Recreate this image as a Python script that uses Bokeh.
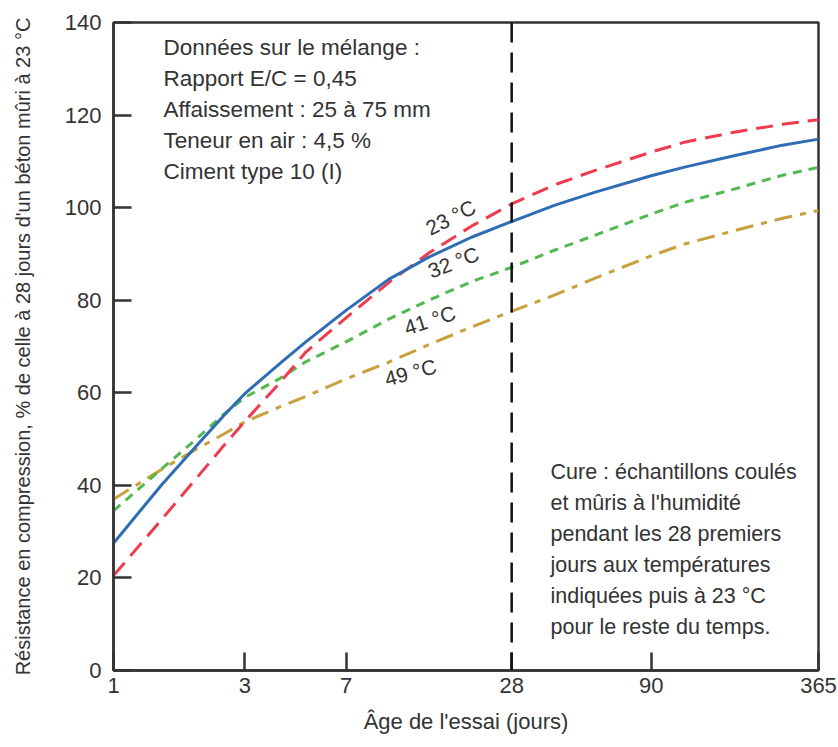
from bokeh.plotting import figure
from bokeh.models import Range1d, FixedTicker, Span, Label
from bokeh.embed import file_html
from bokeh.resources import INLINE

# ---- data ----
ages = [1, 1.5, 2, 2.5, 3, 4, 5, 7, 10, 14, 20, 28, 40, 56, 90, 120, 180, 270, 365]
s23 = [20.5, 32.7, 41.5, 48.4, 53.8, 62.0, 68.8, 76.2, 83.8, 90.2, 96.0, 100.8,
       104.9, 108.0, 112.0, 114.2, 116.3, 118.0, 119.0]
s32 = [27.5, 40.2, 48.5, 54.9, 59.8, 66.2, 71.0, 77.8, 84.5, 89.3, 93.6, 97.0,
       100.5, 103.3, 106.9, 108.8, 111.2, 113.5, 114.8]
s41 = [34.5, 43.6, 50.0, 55.2, 59.0, 63.0, 66.7, 71.0, 75.9, 80.0, 84.0, 87.1,
       90.8, 94.0, 98.6, 101.2, 104.0, 107.0, 108.7]
s49 = [37.0, 43.5, 47.8, 51.0, 53.7, 56.9, 59.2, 63.0, 66.6, 70.4, 74.2, 77.6,
       81.1, 84.7, 89.6, 92.2, 95.0, 97.7, 99.4]
x_ticks = [1, 3, 7, 28, 90, 365]
y_ticks = [0, 20, 40, 60, 80, 100, 120, 140]
curve_labels = ["23 °C", "32 °C", "41 °C", "49 °C"]
mix_lines = ["Données sur le mélange :", "Rapport E/C = 0,45",
             "Affaissement : 25 à 75 mm", "Teneur en air : 4,5 %",
             "Ciment type 10 (I)"]
cure_lines = ["Cure : échantillons coulés", "et mûris à l'humidité",
              "pendant les 28 premiers", "jours aux températures",
              "indiquées puis à 23 °C", "pour le reste du temps."]

FONT = "Liberation Sans"
TXT = "#333333"

p = figure(width=838, height=747, x_axis_type="log",
           x_range=Range1d(1, 365), y_range=Range1d(0, 140),
           output_backend="svg", toolbar_location=None,
           min_border_left=113, min_border_right=20,
           min_border_top=22, min_border_bottom=77)
p.grid.visible = False
p.background_fill_color = "white"
p.border_fill_color = "white"
p.outline_line_color = "#333333"
p.outline_line_width = 2.5

p.xaxis.ticker = FixedTicker(ticks=x_ticks)
p.xaxis.major_label_overrides = {t: str(t) for t in x_ticks}
p.yaxis.ticker = FixedTicker(ticks=y_ticks)
for ax in (p.xaxis, p.yaxis):
    ax.major_tick_in = 18
    ax.major_tick_out = 0
    ax.minor_tick_line_color = None
    ax.axis_line_color = "#333333"
    ax.axis_line_width = 2.5
    ax.major_tick_line_color = "#333333"
    ax.major_tick_line_width = 2.5
    ax.major_label_text_font = FONT
    ax.major_label_text_font_size = "22px"
    ax.major_label_text_color = TXT
    ax.axis_label_text_font = FONT
    ax.axis_label_text_font_style = "normal"
    ax.axis_label_text_color = TXT
p.xaxis.major_label_standoff = 7
p.yaxis.major_label_standoff = 12
p.xaxis.axis_label = "Âge de l'essai (jours)"
p.xaxis.axis_label_text_font_size = "22px"
p.xaxis.axis_label_standoff = 13
p.yaxis.axis_label = "Résistance en compression, % de celle à 28 jours d'un béton mûri à 23 °C"
p.yaxis.axis_label_text_font_size = "20px"
p.yaxis.axis_label_standoff = 28

p.add_layout(Span(location=28, dimension="height", line_color="#111111",
                  line_width=2.5, line_dash="20 10"))

p.line(ages, s49, line_color="#c8a03c", line_width=3, line_dash="18 8 6 8")
p.line(ages, s41, line_color="#52b94f", line_width=3, line_dash="9 7")
p.line(ages, s23, line_color="#ee3b4e", line_width=3, line_dash="17 9")
p.line(ages, s32, line_color="#2e6db4", line_width=3)

# curve labels (data coords)
lab_pos = [(16.8, 97.9, 27), (17.2, 88.2, 21), (14.1, 75.7, 18), (12.0, 64.4, 15)]
for txt, (ax_, ay, ang) in zip(curve_labels, lab_pos):
    p.add_layout(Label(x=ax_, y=ay, text=txt, angle=ang, angle_units="deg",
                       text_align="center", text_baseline="middle",
                       text_font=FONT, text_font_size="21px", text_color=TXT))

# text blocks (screen coords relative to frame)
for i, line in enumerate(mix_lines):
    p.add_layout(Label(x=50, y=623 - 31 * i, x_units="screen", y_units="screen",
                       text=line, text_align="left", text_baseline="middle",
                       text_font=FONT, text_font_size="22.5px", text_color=TXT))
for i, line in enumerate(cure_lines):
    p.add_layout(Label(x=437, y=199 - 31 * i, x_units="screen", y_units="screen",
                       text=line, text_align="left", text_baseline="middle",
                       text_font=FONT, text_font_size="21.5px", text_color=TXT))

open("out.html", "w").write(file_html(p, INLINE))
